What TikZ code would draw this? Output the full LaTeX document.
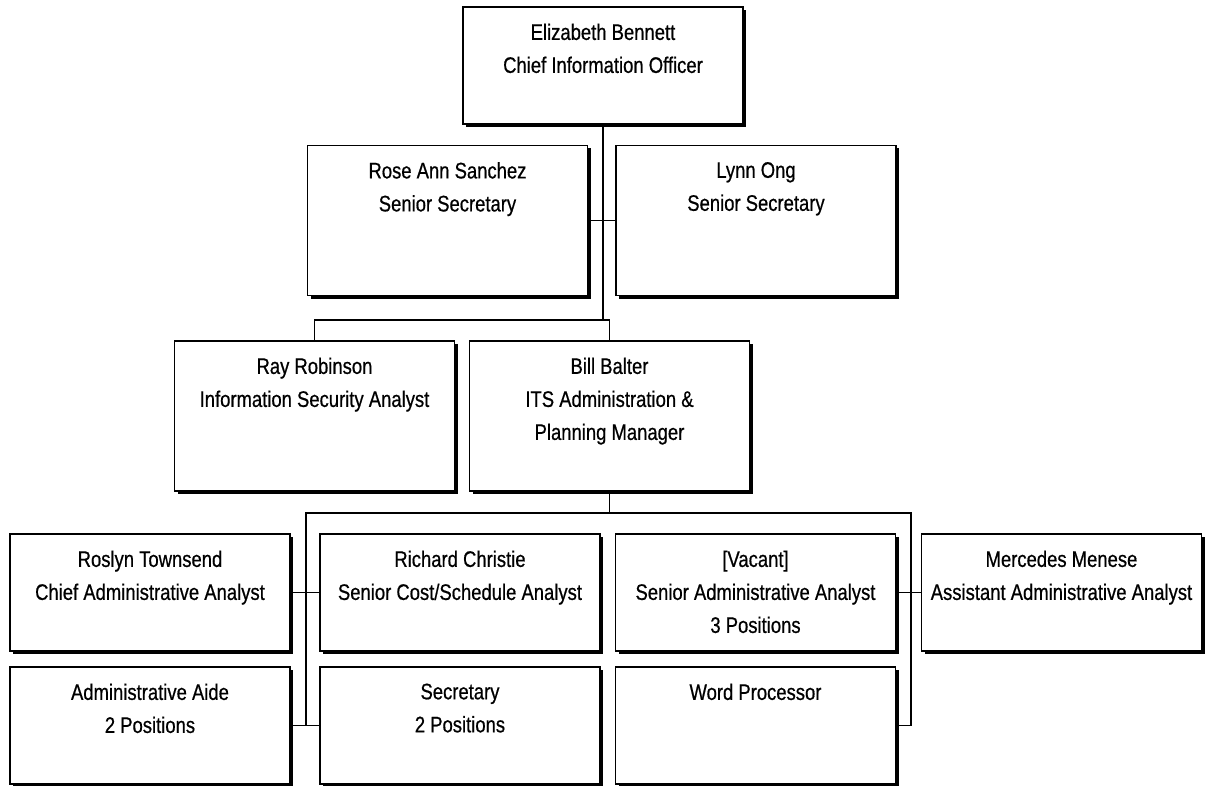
\documentclass[tikz,border=0pt]{standalone}
\usepackage{fontspec}
\setmainfont{Liberation Sans}[FakeStretch=0.82, FakeBold=0.6]
\usepackage{tikz}
\usetikzlibrary{positioning, shadows}

\begin{document}
\begin{tikzpicture}[
  x=1bp, y=-1bp,
  box/.style={rectangle, draw=black, line width=1.2pt, fill=white,
              minimum width=280bp, minimum height=117bp, inner sep=0pt,
              drop shadow={shadow xshift=3bp, shadow yshift=-3bp,
                           fill=black, opacity=1}},
  tallbox/.style={box, minimum height=150bp},
  txt/.style={inner sep=0pt, align=center,
              font=\fontsize{22.5bp}{33bp}\selectfont},
  link/.style={line width=1.1pt, black},
]
\useasboundingbox (0,0) rectangle (1205,786);

% Row 1
\node[box] (ceo) at (603,65.5) {};
\node[txt, below=17bp of ceo.north] (ceo-t) {Elizabeth Bennett\\Chief Information Officer};

% Row 2 -- secretaries
\node[tallbox] (rose) at (447.5,220.5) {};
\node[txt, below=17bp of rose.north] (rose-t) {Rose Ann Sanchez\\Senior Secretary};
\node[tallbox] (lynn) at (756,220.5) {};
\node[txt, below=17bp of lynn.north] (lynn-t) {Lynn Ong\\Senior Secretary};

% Row 3
\node[tallbox] (ray) at (314.5,416) {};
\node[txt, below=17bp of ray.north] (ray-t) {Ray Robinson\\Information Security Analyst};
\node[tallbox] (bill) at (609.5,416) {};
\node[txt, below=17bp of bill.north] (bill-t) {Bill Balter\\ITS Administration \&\\Planning Manager};

% Row 4
\node[box] (roslyn) at (150,592.5) {};
\node[txt, below=17bp of roslyn.north] (roslyn-t) {Roslyn Townsend\\Chief Administrative Analyst};
\node[box] (richard) at (460,592.5) {};
\node[txt, below=17bp of richard.north] (richard-t) {Richard Christie\\Senior Cost/Schedule Analyst};
\node[box] (vacant) at (755.5,592.5) {};
\node[txt, below=17bp of vacant.north] (vacant-t) {[Vacant]\\Senior Administrative Analyst\\3 Positions};
\node[box] (mercedes) at (1061.5,592.5) {};
\node[txt, below=17bp of mercedes.north] (mercedes-t) {Mercedes Menese\\Assistant Administrative Analyst};

% Row 5
\node[box] (aide) at (150,725.5) {};
\node[txt, below=17bp of aide.north] (aide-t) {Administrative Aide\\2 Positions};
\node[box] (sec) at (460,725.5) {};
\node[txt, below=17bp of sec.north] (sec-t) {Secretary\\2 Positions};
\node[box] (word) at (755.5,725.5) {};
\node[txt, below=17bp of word.north] (word-t) {Word Processor};

% Junctions
\coordinate (j1) at (603,320);
\coordinate (j2) at (609.5,513);
\coordinate (bl) at (306,513);
\coordinate (br) at (911,513);

% Links
\draw[link] (ceo.south) -- (j1);
\draw[link] (rose.east) -- (lynn.west);
\draw[link] (ray.north) |- (j1) -| (bill.north);
\draw[link] (bill.south) -- (j2);
\draw[link] (aide.east) -| (bl) -- (br) |- (word.east);
\draw[link] (aide.east) -- (sec.west);
\draw[link] (roslyn.east) -- (richard.west);
\draw[link] (vacant.east) -- (mercedes.west);

\end{tikzpicture}
\end{document}
